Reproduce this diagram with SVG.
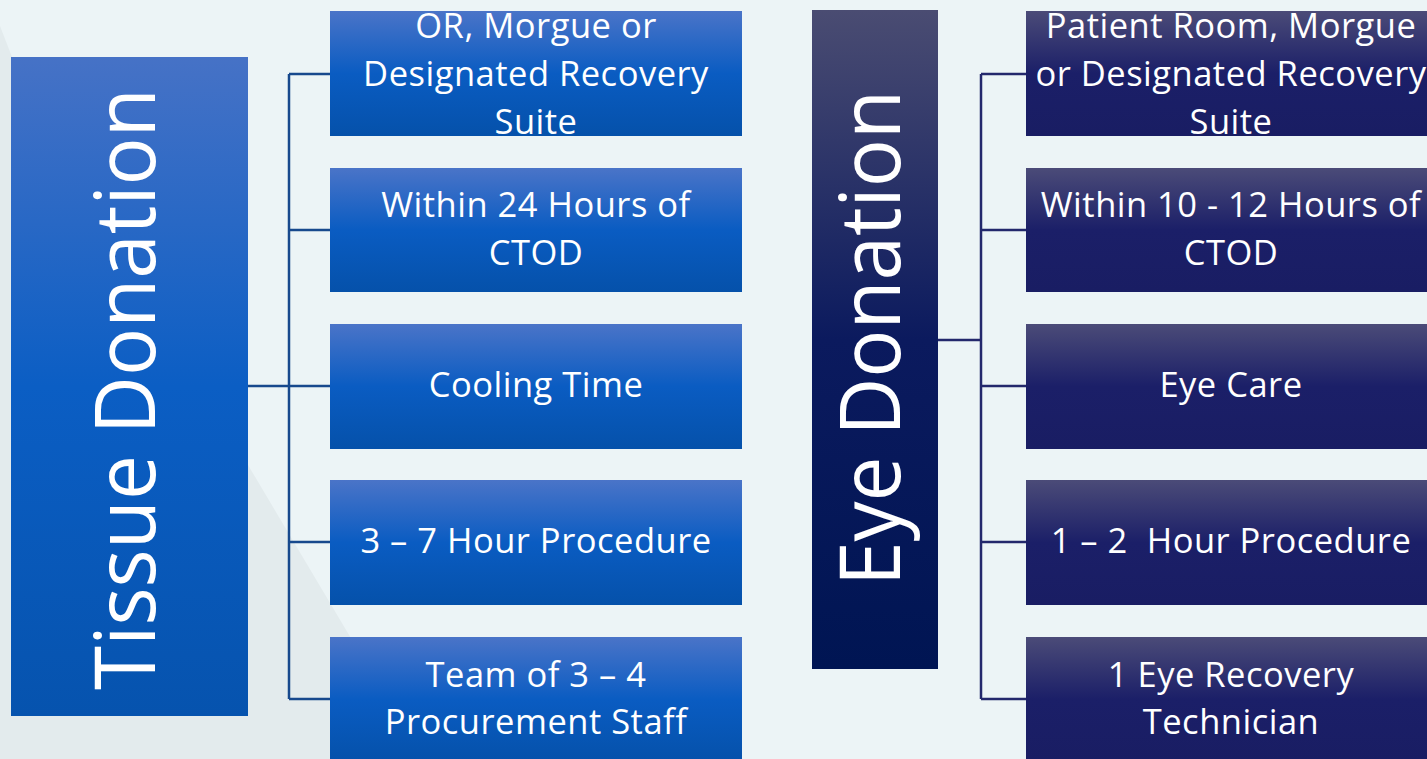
<svg xmlns="http://www.w3.org/2000/svg" width="1427" height="759" viewBox="0 0 1427 759">
<defs>
<linearGradient id="gT" x1="0" y1="0" x2="0" y2="1">
<stop offset="0" stop-color="#4a74c8"/><stop offset="0.5" stop-color="#0a5cc2"/><stop offset="1" stop-color="#0551aa"/>
</linearGradient>
<linearGradient id="gTbig" x1="0" y1="0" x2="0" y2="1">
<stop offset="0" stop-color="#4672c6"/><stop offset="0.5" stop-color="#0b5ec4"/><stop offset="1" stop-color="#0653ae"/>
</linearGradient>
<linearGradient id="gE" x1="0" y1="0" x2="0" y2="1">
<stop offset="0" stop-color="#4b4b78"/><stop offset="0.5" stop-color="#1b1f68"/><stop offset="1" stop-color="#191d63"/>
</linearGradient>
<linearGradient id="gEbig" x1="0" y1="0" x2="0" y2="1">
<stop offset="0" stop-color="#4a4c72"/><stop offset="0.5" stop-color="#0b1a5e"/><stop offset="1" stop-color="#001553"/>
</linearGradient>
<style>
.t{fill:#ffffff;font-family:"Open Sans","DejaVu Sans",sans-serif;font-size:34.5px;letter-spacing:0.5px;text-anchor:middle;white-space:pre}
.big{fill:#ffffff;font-family:"Open Sans","DejaVu Sans",sans-serif;font-size:84px;text-anchor:middle}
.ct{fill:none;stroke:#17498d;stroke-width:2.5}
.ce{fill:none;stroke:#23286c;stroke-width:2.5}
.bt{fill:url(#gT)}
.be{fill:url(#gE)}
</style>
</defs>
<rect width="1427" height="759" fill="#ecf4f6"/>
<polygon points="0,26 12,57 248,465 355,645 355,759 0,759" fill="#e3ebed"/>
<g id="connectors">
<path class="ct" d="M248,386 H289 M289,74 V699 M289,74 H330 M289,230 H330 M289,386 H330 M289,542 H330 M289,699 H330"/>
<path class="ce" d="M938,340 H981 M981,74 V699 M981,74 H1026 M981,230 H1026 M981,386 H1026 M981,542 H1026 M981,699 H1026"/>
</g>
<g id="tissue">
<rect x="11" y="57" width="237" height="659" fill="url(#gTbig)"/>
<text class="big" transform="translate(155,389) rotate(-90)" textLength="602" lengthAdjust="spacingAndGlyphs">Tissue Donation</text>
</g>
<g id="t1"><rect class="bt" x="330" y="11" width="412" height="125"/>
<text class="t" x="536" y="38">OR, Morgue or</text><text class="t" x="536" y="86">Designated Recovery</text><text class="t" x="536" y="134">Suite</text></g>
<g id="t2"><rect class="bt" x="330" y="168" width="412" height="124"/>
<text class="t" x="536" y="217">Within 24 Hours of</text><text class="t" x="536" y="265">CTOD</text></g>
<g id="t3"><rect class="bt" x="330" y="324" width="412" height="125"/>
<text class="t" x="536" y="397">Cooling Time</text></g>
<g id="t4"><rect class="bt" x="330" y="480" width="412" height="125"/>
<text class="t" x="536" y="553">3 – 7 Hour Procedure</text></g>
<g id="t5"><rect class="bt" x="330" y="637" width="412" height="125"/>
<text class="t" x="536" y="687">Team of 3 – 4</text><text class="t" x="536" y="734">Procurement Staff</text></g>
<g id="eye">
<rect x="812" y="10" width="126" height="659" fill="url(#gEbig)"/>
<text class="big" transform="translate(900,338) rotate(-90)" textLength="496" lengthAdjust="spacingAndGlyphs">Eye Donation</text>
</g>
<g id="e1"><rect class="be" x="1026" y="11" width="410" height="125"/>
<text class="t" x="1231" y="38">Patient Room, Morgue</text><text class="t" x="1231" y="86">or Designated Recovery</text><text class="t" x="1231" y="134">Suite</text></g>
<g id="e2"><rect class="be" x="1026" y="168" width="410" height="124"/>
<text class="t" x="1231" y="217">Within 10 - 12 Hours of</text><text class="t" x="1231" y="265">CTOD</text></g>
<g id="e3"><rect class="be" x="1026" y="324" width="410" height="125"/>
<text class="t" x="1231" y="397">Eye Care</text></g>
<g id="e4"><rect class="be" x="1026" y="480" width="410" height="125"/>
<text class="t" x="1231" y="553">1 – 2  Hour Procedure</text></g>
<g id="e5"><rect class="be" x="1026" y="637" width="410" height="125"/>
<text class="t" x="1231" y="687">1 Eye Recovery</text><text class="t" x="1231" y="734">Technician</text></g>
</svg>
